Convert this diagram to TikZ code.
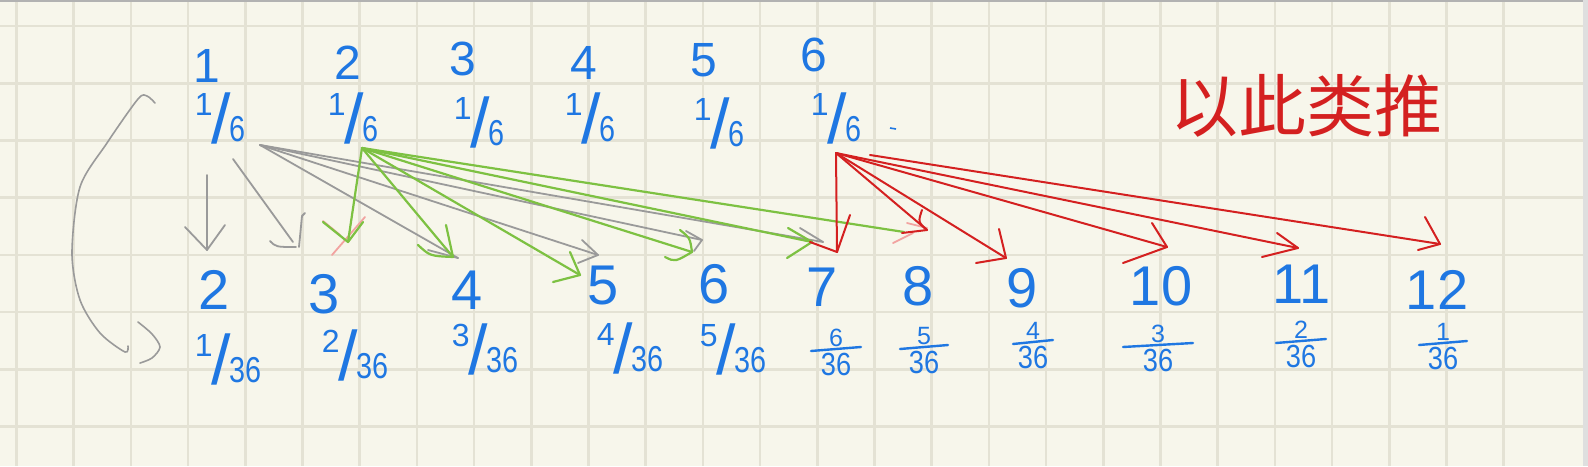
\documentclass[tikz,border=0pt]{standalone}
\usepackage{fontspec}
\setmainfont{Liberation Sans}
\newfontfamily\cjk{Noto Sans CJK SC}
\definecolor{paper}{HTML}{F7F6EB}
\definecolor{gridc}{HTML}{E4E2D4}
\definecolor{inkblue}{HTML}{1F77E2}
\definecolor{inkgray}{HTML}{9A9A9A}
\definecolor{inkgreen}{HTML}{7DC142}
\definecolor{inkred}{HTML}{D42020}
\definecolor{inkpink}{HTML}{F2A3A0}
\newcommand\hsl[2]{\raisebox{18pt}{\fontsize{32}{32}\selectfont #1}\kern-1pt\raisebox{-10pt}{\fontsize{70}{70}\selectfont /}\kern-2pt\raisebox{-8pt}{\scalebox{0.8}[1]{\fontsize{36}{36}\selectfont #2}}}
\newcommand\stk[6]{%
  \node[stknum,anchor=south] (#1n) at (#2,#3-2) {#4};
  \draw[bluebar] (#2-#6,#3+2) -- (#2+#6,#3-2);
  \node[stkden,anchor=north] (#1d) at (#2,#3+4) {\scalebox{0.85}[1]{#5}};}
\begin{document}
\begin{tikzpicture}[x=1pt,y=-1pt,
  gridline/.style={draw=gridc, line width=2.6pt},
  ink/.style={text=inkblue, inner sep=0pt},
  topnum/.style={ink, font=\fontsize{48}{48}\selectfont},
  botnum/.style={ink, font=\fontsize{56}{56}\selectfont},
  frac/.style={ink},
  stknum/.style={ink, font=\fontsize{25}{25}\selectfont},
  stkden/.style={ink, font=\fontsize{32}{32}\selectfont},
  bluebar/.style={draw=inkblue, line width=2.4pt, line cap=round},
  garr/.style={draw=inkgray, line width=1.8pt, line cap=round, line join=round},
  grarr/.style={draw=inkgreen, line width=2.2pt, line cap=round, line join=round},
  rarr/.style={draw=inkred, line width=2pt, line cap=round, line join=round},
  parr/.style={draw=inkpink, line width=1.8pt, line cap=round}]
\useasboundingbox (0,0) rectangle (1588,466);
% paper
\fill[paper] (0,0) rectangle (1588,466);
\foreach \k in {0,...,7} \draw[gridline] (0,26+57.2*\k) -- (1583,26+57.2*\k);
\foreach \k in {0,...,26} \draw[gridline] (16.4+57.2*\k,0) -- (16.4+57.2*\k,466);
\fill[gray!25] (1583,0) rectangle (1588,466);
\draw[draw=gray!60, line width=1.5pt] (0,1) -- (1583,1);

% top row
\node[topnum] (t1) at (207,66) {1};
\node[topnum] (t2) at (348,63) {2};
\node[topnum] (t3) at (463,59) {3};
\node[topnum] (t4) at (584,63) {4};
\node[topnum] (t5) at (704,60) {5};
\node[topnum] (t6) at (814,55) {6};
\node[frac] (p1) at (220,118) {\hsl{1}{6}};
\node[frac] (p2) at (353,118) {\hsl{1}{6}};
\node[frac] (p3) at (479,122) {\hsl{1}{6}};
\node[frac] (p4) at (590,118) {\hsl{1}{6}};
\node[frac] (p5) at (719,123) {\hsl{1}{6}};
\node[frac] (p6) at (836,118) {\hsl{1}{6}};
\coordinate (dashA) at (890,128);
\coordinate (dashB) at (896,129);
\draw[draw=inkblue, line width=1.6pt] (dashA) -- (dashB);

% bottom row
\node[botnum] (b2) at (214,290) {2};
\node[botnum] (b3) at (324,294) {3};
\node[botnum] (b4) at (467,290) {4};
\node[botnum] (b5) at (603,286) {5};
\node[botnum] (b6) at (714,284) {6};
\node[botnum] (b7) at (822,287) {7};
\node[botnum] (b8) at (918,286) {8};
\node[botnum] (b9) at (1022,288) {9};
\node[botnum] (b10) at (1161,286) {10};
\node[botnum] (b11) at (1302,284) {11};
\node[botnum] (b12) at (1437,290) {12};
\node[frac] (q2) at (228,359) {\hsl{1}{36}};
\node[frac] (q3) at (355,355) {\hsl{2}{36}};
\node[frac] (q4) at (485,349) {\hsl{3}{36}};
\node[frac] (q5) at (630,348) {\hsl{4}{36}};
\node[frac] (q6) at (733,349) {\hsl{5}{36}};
\stk{q7}{836}{349}{6}{36}{25}
\stk{q8}{924}{347}{5}{36}{24}
\stk{q9}{1033}{342}{4}{36}{20}
\stk{q10}{1158}{345}{3}{36}{35}
\stk{q11}{1301}{341}{2}{36}{25}
\stk{q12}{1443}{343}{1}{36}{24}

% red text
\node[text=inkred, inner sep=0pt, font=\cjk\fontsize{68}{68}\selectfont] (txt) at (1306,106) {以此类推};

% left bracket
\draw[garr, line width=1.6pt] plot[smooth] coordinates {(155,103) (147,96) (138,99) (107,143) (80,187) (72,253) (80,300) (100,333) (125,352) (128,346)};
\draw[garr, line width=1.6pt] plot[smooth] coordinates {(138,322) (152,334) (160,347) (152,358) (140,363)};

% gray arrows from 1/6
\coordinate (g0) at (260,145);
\coordinate (gv0) at (207,175); \coordinate (gv) at (207,250);
\draw[garr] (gv0) -- (gv);
\draw[garr] (185,227) -- (gv) -- (225,225);
\coordinate (gd0) at (233,159); \coordinate (gd) at (293,242);
\draw[garr] (gd0) -- (gd);
\draw[garr] (270,241) .. controls (276,247) .. (296,247);
\draw[garr] (299,247) -- (302,216) -- (305,213);
\coordinate (g4) at (458,258);
\draw[garr] (g0) -- (g4); \draw[garr] (428,250) -- (g4);
\coordinate (g5) at (598,255);
\draw[garr] (g0) -- (g5); \draw[garr] (582,240) -- (g5) -- (578,263);
\coordinate (g6) at (702,240);
\draw[garr] (g0) -- (g6); \draw[garr] (686,231) -- (g6) -- (694,251);
\coordinate (g7) at (823,242);
\draw[garr] (g0) -- (g7); \draw[garr] (800,228) -- (g7);

% pink marks
\draw[parr] (365,217) -- (332,255);
\draw[parr] (323,221) -- (340,235);

% green arrows from 2's 1/6
\coordinate (n0) at (362,148);
\coordinate (n3) at (348,242);
\draw[grarr] (n0) -- (n3); \draw[grarr] (323,222) -- (n3) -- (363,222);
\coordinate (n4) at (453,257);
\draw[grarr] (n0) -- (n4); \draw[grarr] (446,225) -- (n4); \draw[grarr] (418,245) .. controls (430,256) .. (n4);
\coordinate (n5) at (580,275);
\draw[grarr] (n0) -- (n5); \draw[grarr] (570,252) -- (n5) -- (553,282);
\coordinate (n6) at (692,252);
\draw[grarr] (n0) -- (n6); \draw[grarr] (680,230) .. controls (690,238) .. (n6); \draw[grarr] (665,257) .. controls (675,262) .. (n6);
\coordinate (n7) at (812,242);
\draw[grarr] (n0) -- (n7); \draw[grarr] (788,228) -- (n7) -- (787,258);
\coordinate (n8) at (904,232);
\draw[grarr] (n0) -- (n8);
\draw[parr] (907,223) -- (927,228);
\draw[parr] (893,243) -- (913,233);

% red arrows from 6's 1/6
\coordinate (r0) at (836,153);
\coordinate (r7) at (837,252);
\draw[rarr] (r0) -- (r7); \draw[rarr] (850,215) -- (r7) -- (810,242);
\coordinate (r8) at (927,230);
\draw[rarr] (r0) -- (r8); \draw[rarr] (922,210) .. controls (918,222) .. (r8);
\draw[rarr] (902,233) -- (r8);
\coordinate (r9) at (1006,258);
\draw[rarr] (r0) -- (r9); \draw[rarr] (999,229) -- (r9) -- (976,263);
\coordinate (r10) at (1167,247);
\draw[rarr] (r0) -- (r10); \draw[rarr] (1152,223) -- (r10) -- (1123,263);
\coordinate (r11) at (1298,248);
\draw[rarr] (r0) -- (r11); \draw[rarr] (1277,233) -- (r11) -- (1262,257);
\coordinate (r12s) at (870,155); \coordinate (r12) at (1440,244);
\draw[rarr] (r12s) -- (r12); \draw[rarr] (1425,217) -- (r12) -- (1418,250);
\end{tikzpicture}
\end{document}
